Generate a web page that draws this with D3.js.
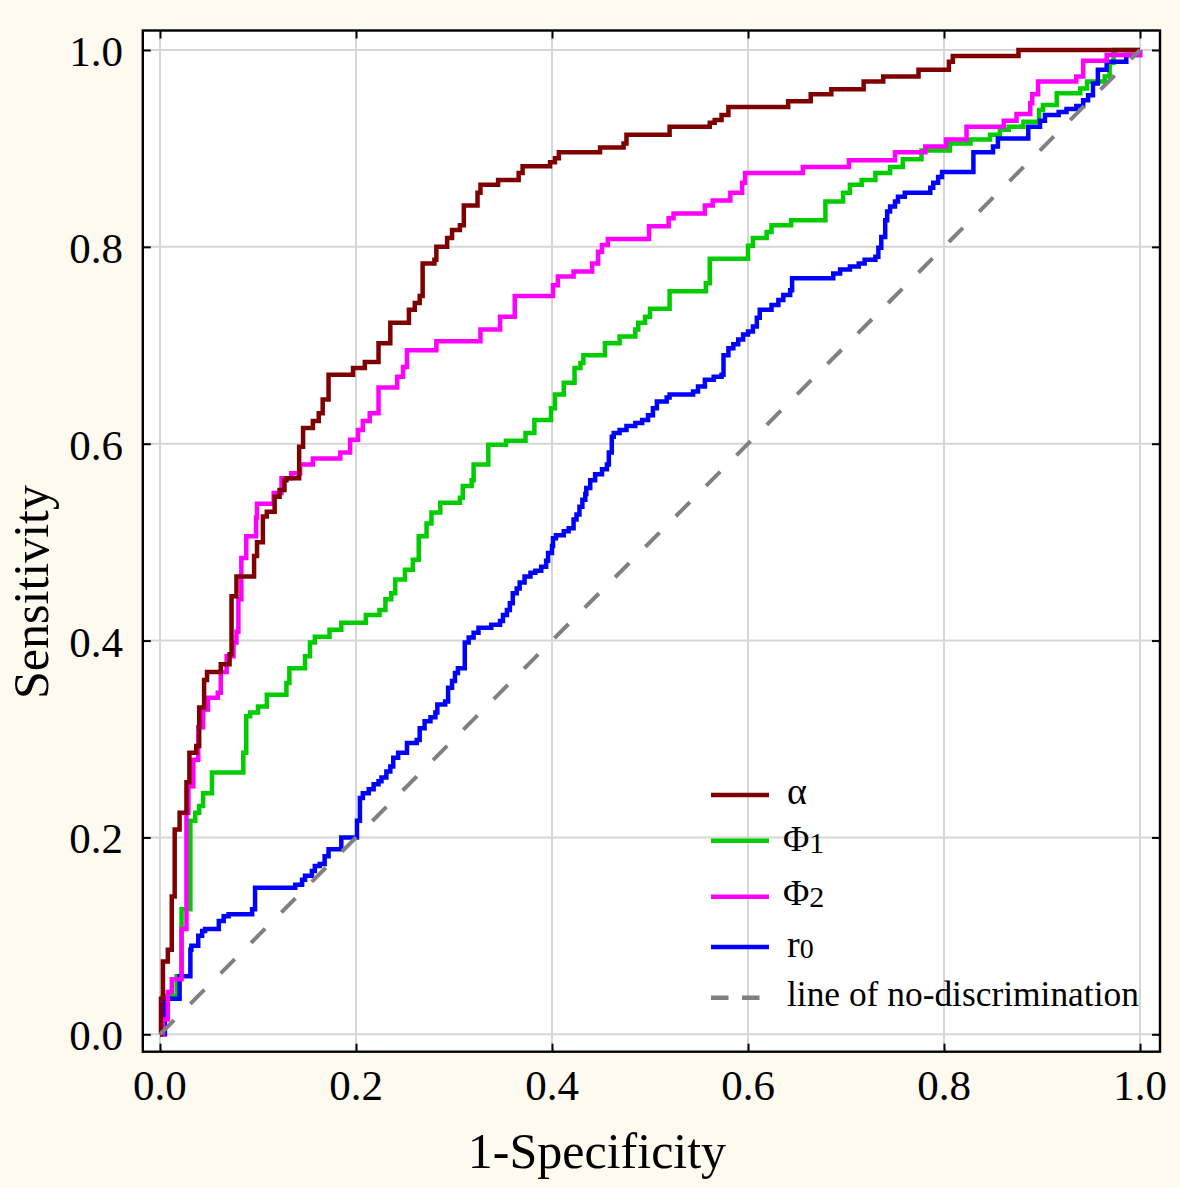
<!DOCTYPE html>
<html>
<head>
<meta charset="utf-8">
<script src="https://cdn.jsdelivr.net/npm/d3@7"></script>
<style>
  html, body { margin: 0; padding: 0; background: #fefaf0; }
  svg { display: block; }
  text { font-family: "Liberation Serif", "Times New Roman", serif; fill: #000; }
</style>
</head>
<body>
<svg id="chart" width="1180" height="1188"></svg>
<script>
// ---------------- data (FPR, TPR) step points ----------------
const ticks = [0, 0.2, 0.4, 0.6, 0.8, 1.0];
const tickLabels = ["0.0", "0.2", "0.4", "0.6", "0.8", "1.0"];
const xTitle = "1-Specificity";
const yTitle = "Sensitivity";

const alphaPts = [[0,0],[0.001,0.036],[0.003,0.074],[0.008,0.086],[0.012,0.140],[0.015,0.208],[0.020,0.225],[0.027,0.256],[0.030,0.286],[0.037,0.293],[0.040,0.332],[0.045,0.360],[0.048,0.368],[0.062,0.376],[0.071,0.386],[0.073,0.445],[0.078,0.465],[0.096,0.486],[0.099,0.500],[0.105,0.526],[0.109,0.531],[0.117,0.546],[0.122,0.553],[0.127,0.563],[0.129,0.565],[0.142,0.597],[0.146,0.616],[0.156,0.623],[0.162,0.631],[0.166,0.645],[0.172,0.670],[0.197,0.677],[0.209,0.683],[0.223,0.702],[0.235,0.723],[0.254,0.736],[0.260,0.743],[0.265,0.750],[0.268,0.783],[0.280,0.787],[0.282,0.800],[0.293,0.809],[0.298,0.817],[0.306,0.822],[0.310,0.842],[0.324,0.855],[0.327,0.863],[0.345,0.868],[0.366,0.875],[0.370,0.882],[0.398,0.886],[0.403,0.890],[0.407,0.896],[0.449,0.901],[0.473,0.905],[0.476,0.914],[0.520,0.922],[0.561,0.926],[0.566,0.929],[0.573,0.934],[0.580,0.942],[0.641,0.948],[0.664,0.955],[0.685,0.960],[0.718,0.968],[0.738,0.973],[0.774,0.980],[0.805,0.988],[0.809,0.994],[0.876,1.0],[1.0,1.0]];

const phi1Pts = [[0,0],[0.003,0.039],[0.017,0.059],[0.022,0.127],[0.031,0.195],[0.031,0.217],[0.036,0.225],[0.040,0.232],[0.044,0.245],[0.053,0.266],[0.085,0.286],[0.088,0.323],[0.092,0.327],[0.100,0.333],[0.109,0.345],[0.129,0.357],[0.132,0.372],[0.148,0.384],[0.153,0.398],[0.158,0.404],[0.173,0.411],[0.185,0.418],[0.210,0.426],[0.224,0.431],[0.230,0.442],[0.236,0.448],[0.240,0.462],[0.250,0.472],[0.258,0.482],[0.264,0.506],[0.272,0.519],[0.277,0.530],[0.286,0.540],[0.306,0.545],[0.309,0.557],[0.318,0.563],[0.320,0.579],[0.335,0.599],[0.353,0.603],[0.373,0.611],[0.382,0.624],[0.399,0.636],[0.403,0.650],[0.412,0.662],[0.423,0.677],[0.429,0.682],[0.432,0.690],[0.454,0.702],[0.469,0.709],[0.485,0.716],[0.488,0.723],[0.495,0.729],[0.500,0.737],[0.520,0.755],[0.557,0.763],[0.561,0.788],[0.600,0.801],[0.605,0.809],[0.619,0.815],[0.624,0.822],[0.644,0.827],[0.679,0.846],[0.697,0.855],[0.704,0.863],[0.716,0.868],[0.730,0.875],[0.745,0.881],[0.758,0.889],[0.777,0.898],[0.806,0.905],[0.827,0.909],[0.847,0.914],[0.857,0.919],[0.866,0.922],[0.881,0.927],[0.897,0.939],[0.901,0.944],[0.915,0.956],[0.939,0.961],[0.946,0.968],[0.964,0.973],[0.969,0.987],[0.973,0.997],[0.974,1.0],[1.0,1.0]];

const phi2Pts = [[0,0],[0.003,0.015],[0.008,0.043],[0.012,0.056],[0.022,0.107],[0.027,0.225],[0.029,0.252],[0.034,0.279],[0.039,0.312],[0.044,0.330],[0.049,0.342],[0.059,0.347],[0.062,0.368],[0.068,0.384],[0.075,0.398],[0.078,0.409],[0.080,0.442],[0.083,0.484],[0.088,0.506],[0.098,0.525],[0.099,0.539],[0.116,0.550],[0.124,0.565],[0.134,0.570],[0.143,0.579],[0.156,0.585],[0.184,0.591],[0.194,0.604],[0.202,0.614],[0.207,0.623],[0.214,0.631],[0.223,0.657],[0.242,0.668],[0.248,0.678],[0.252,0.695],[0.282,0.704],[0.327,0.716],[0.347,0.729],[0.362,0.750],[0.401,0.761],[0.406,0.770],[0.422,0.775],[0.441,0.783],[0.447,0.795],[0.451,0.802],[0.457,0.808],[0.499,0.821],[0.519,0.829],[0.524,0.834],[0.556,0.842],[0.564,0.847],[0.582,0.855],[0.594,0.865],[0.597,0.875],[0.656,0.881],[0.703,0.888],[0.750,0.896],[0.781,0.902],[0.802,0.909],[0.823,0.922],[0.861,0.928],[0.874,0.935],[0.888,0.946],[0.890,0.955],[0.896,0.968],[0.935,0.973],[0.942,0.989],[0.966,0.995],[1.0,1.0]];

const r0Pts = [[0,0],[0.005,0.036],[0.020,0.046],[0.020,0.059],[0.031,0.086],[0.032,0.090],[0.039,0.100],[0.043,0.105],[0.046,0.107],[0.060,0.115],[0.065,0.120],[0.070,0.122],[0.094,0.127],[0.097,0.149],[0.138,0.152],[0.145,0.157],[0.148,0.161],[0.155,0.166],[0.158,0.171],[0.163,0.173],[0.168,0.181],[0.172,0.188],[0.185,0.200],[0.201,0.217],[0.204,0.240],[0.207,0.245],[0.213,0.249],[0.218,0.254],[0.223,0.257],[0.226,0.261],[0.231,0.267],[0.235,0.272],[0.238,0.281],[0.243,0.286],[0.252,0.296],[0.262,0.299],[0.265,0.311],[0.270,0.318],[0.276,0.322],[0.281,0.327],[0.283,0.335],[0.291,0.338],[0.294,0.352],[0.298,0.359],[0.301,0.367],[0.304,0.372],[0.311,0.398],[0.315,0.403],[0.320,0.408],[0.325,0.413],[0.338,0.416],[0.347,0.420],[0.350,0.426],[0.354,0.431],[0.357,0.438],[0.360,0.448],[0.364,0.453],[0.367,0.459],[0.372,0.465],[0.378,0.469],[0.383,0.471],[0.389,0.475],[0.394,0.481],[0.396,0.489],[0.400,0.496],[0.401,0.504],[0.404,0.507],[0.412,0.511],[0.417,0.514],[0.422,0.523],[0.425,0.528],[0.428,0.536],[0.431,0.543],[0.434,0.549],[0.435,0.555],[0.439,0.563],[0.444,0.569],[0.451,0.574],[0.456,0.579],[0.458,0.591],[0.461,0.607],[0.463,0.611],[0.469,0.614],[0.476,0.618],[0.485,0.621],[0.492,0.624],[0.498,0.629],[0.503,0.636],[0.507,0.643],[0.517,0.647],[0.520,0.650],[0.544,0.653],[0.549,0.658],[0.556,0.665],[0.565,0.668],[0.573,0.670],[0.575,0.690],[0.580,0.697],[0.585,0.701],[0.590,0.706],[0.595,0.711],[0.600,0.714],[0.605,0.719],[0.609,0.728],[0.612,0.736],[0.624,0.741],[0.631,0.746],[0.636,0.751],[0.643,0.756],[0.645,0.768],[0.687,0.773],[0.694,0.777],[0.704,0.780],[0.713,0.783],[0.719,0.787],[0.730,0.790],[0.733,0.799],[0.736,0.810],[0.740,0.827],[0.742,0.836],[0.745,0.841],[0.750,0.846],[0.753,0.851],[0.760,0.855],[0.786,0.860],[0.789,0.865],[0.794,0.871],[0.798,0.876],[0.830,0.896],[0.850,0.902],[0.855,0.910],[0.886,0.922],[0.898,0.928],[0.903,0.934],[0.917,0.937],[0.925,0.940],[0.935,0.943],[0.942,0.949],[0.947,0.954],[0.952,0.966],[0.957,0.980],[0.966,0.988],[0.986,0.995],[1.0,1.0]];

const diagPts = [[0,0],[1,1]];

const seriesNames = ["α", "Φ1", "Φ2", "r0", "line of no-discrimination"];
const seriesColors = ["#7f0000", "#00cc00", "#ff00ff", "#0000ff", "#808080"];

// ---------------- layout ----------------
const W = 1180, H = 1188;
const frame = {left: 142.8, right: 1160, top: 30.5, bottom: 1051.7};

const svg = d3.select("#chart");
svg.append("rect").attr("width", W).attr("height", H).attr("fill", "#fefaf0");

const x = d3.scaleLinear().domain([-0.01755, 1.0204]).range([frame.left, frame.right]);
const y = d3.scaleLinear().domain([-0.01768, 1.0198]).range([frame.bottom, frame.top]);

// plot background
svg.append("rect")
  .attr("x", frame.left).attr("y", frame.top)
  .attr("width", frame.right - frame.left).attr("height", frame.bottom - frame.top)
  .attr("fill", "#ffffff");

// grid
const grid = svg.append("g");
grid.selectAll("line.gx").data(ticks).join("line")
  .attr("x1", d => x(d)).attr("x2", d => x(d))
  .attr("y1", frame.top).attr("y2", frame.bottom)
  .attr("stroke", "#d6d6d6").attr("stroke-width", 2);
grid.selectAll("line.gy").data(ticks).join("line")
  .attr("y1", d => y(d)).attr("y2", d => y(d))
  .attr("x1", frame.left).attr("x2", frame.right)
  .attr("stroke", "#d6d6d6").attr("stroke-width", 2);

// clip
svg.append("clipPath").attr("id", "clip").append("rect")
  .attr("x", frame.left).attr("y", frame.top)
  .attr("width", frame.right - frame.left).attr("height", frame.bottom - frame.top);

const stepLine = d3.line().x(d => x(d[0])).y(d => y(d[1])).curve(d3.curveStepAfter);
const plain = d3.line().x(d => x(d[0])).y(d => y(d[1]));

const lines = svg.append("g").attr("clip-path", "url(#clip)");
const drawOrder = [[phi1Pts, 1], [r0Pts, 3], [phi2Pts, 2], [alphaPts, 0]];
drawOrder.forEach(([pts, i]) => {
  lines.append("path").datum(pts)
    .attr("d", stepLine)
    .attr("fill", "none")
    .attr("stroke", seriesColors[i])
    .attr("stroke-width", 4.5)
    .attr("stroke-linejoin", "miter")
    .attr("stroke-linecap", "butt");
});
lines.append("path").datum(diagPts)
  .attr("d", plain)
  .attr("fill", "none")
  .attr("stroke", seriesColors[4])
  .attr("stroke-width", 4)
  .attr("stroke-dasharray", "20,23");

// axes with inward ticks (all four sides)
const tickLen = 8;
const axBottom = d3.axisBottom(x).tickValues(ticks).tickSize(-tickLen).tickFormat("");
const axTop = d3.axisTop(x).tickValues(ticks).tickSize(-tickLen).tickFormat("");
const axLeft = d3.axisLeft(y).tickValues(ticks).tickSize(-tickLen).tickFormat("");
const axRight = d3.axisRight(y).tickValues(ticks).tickSize(-tickLen).tickFormat("");
[[axBottom, `translate(0,${frame.bottom})`], [axTop, `translate(0,${frame.top})`],
 [axLeft, `translate(${frame.left},0)`], [axRight, `translate(${frame.right},0)`]].forEach(([ax, tr]) => {
  const g = svg.append("g").attr("transform", tr).call(ax);
  g.select(".domain").remove();
  g.selectAll(".tick line").attr("stroke", "#000").attr("stroke-width", 2);
});

// frame
svg.append("rect")
  .attr("x", frame.left).attr("y", frame.top)
  .attr("width", frame.right - frame.left).attr("height", frame.bottom - frame.top)
  .attr("fill", "none").attr("stroke", "#000").attr("stroke-width", 2.4);

// tick labels
svg.append("g").selectAll("text").data(ticks).join("text")
  .attr("x", d => x(d)).attr("y", 1100)
  .attr("text-anchor", "middle").attr("font-size", 43)
  .text((d, i) => tickLabels[i]);
svg.append("g").selectAll("text").data(ticks).join("text")
  .attr("x", 123).attr("y", d => y(d) + 16)
  .attr("text-anchor", "end").attr("font-size", 43)
  .text((d, i) => tickLabels[i]);

// axis titles
svg.append("text").attr("x", 597).attr("y", 1168)
  .attr("text-anchor", "middle").attr("font-size", 50).text(xTitle);
svg.append("text")
  .attr("transform", "translate(48,592) rotate(-90)")
  .attr("text-anchor", "middle").attr("font-size", 50).text(yTitle);

// legend
const legendRows = [795, 840.7, 896.7, 947, 997.7];
const lg = svg.append("g");
legendRows.forEach((ly, i) => {
  const ln = lg.append("line")
    .attr("x1", 711).attr("x2", 769).attr("y1", ly).attr("y2", ly)
    .attr("stroke", seriesColors[i]).attr("stroke-width", 4.5);
  if (i === 4) ln.attr("stroke-dasharray", "17.5,13.5");
});
// α
lg.append("text").attr("x", 787).attr("y", legendRows[0] + 8.5).attr("font-size", 38).text("α");
// Φ1
const t1 = lg.append("text").attr("x", 783).attr("y", legendRows[1] + 10.5).attr("font-size", 36);
t1.append("tspan").text("Φ");
t1.append("tspan").attr("font-size", 30).attr("dy", 1.5).text("1");
// Φ2
const t2 = lg.append("text").attr("x", 783).attr("y", legendRows[2] + 8.5).attr("font-size", 36);
t2.append("tspan").text("Φ");
t2.append("tspan").attr("font-size", 30).attr("dy", 1.5).text("2");
// r0
const t3 = lg.append("text").attr("x", 787).attr("y", legendRows[3] + 9.5).attr("font-size", 38);
t3.append("tspan").text("r");
t3.append("tspan").attr("font-size", 28).attr("dy", 1.5).text("0");
// diag
lg.append("text").attr("x", 787).attr("y", legendRows[4] + 8.5).attr("font-size", 35.4).text(seriesNames[4]);
</script>
</body>
</html>
